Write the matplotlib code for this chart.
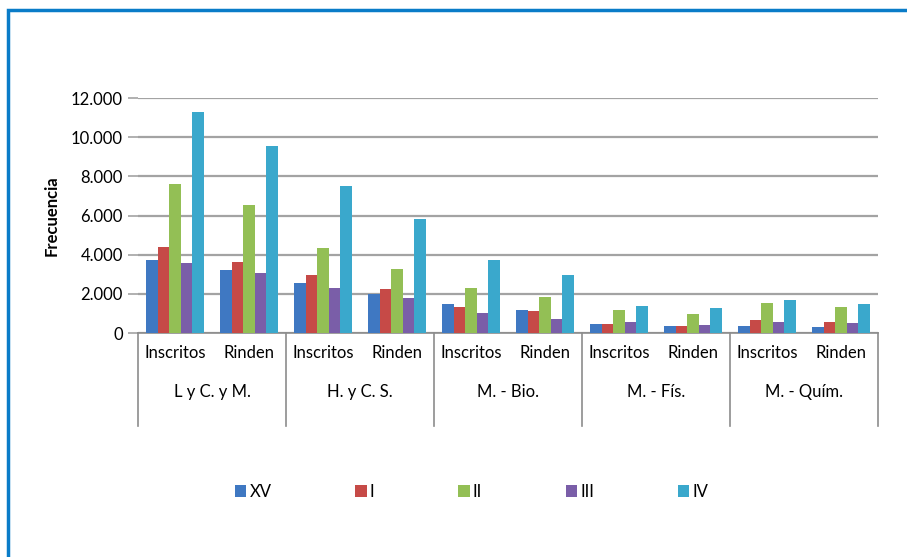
import matplotlib.pyplot as plt
from matplotlib.patches import Rectangle
from matplotlib.ticker import FuncFormatter, FixedLocator
import matplotlib.transforms as mtransforms

plt.rcParams['font.family'] = ['Lato', 'DejaVu Sans']

# data
groups = ['L y C. y M.', 'H. y C. S.', 'M. - Bio.', 'M. - Fís.', 'M. - Quím.']
subcats = ['Inscritos', 'Rinden']
series = ['XV', 'I', 'II', 'III', 'IV']
colors = ['#3f78c2', '#c64a47', '#93bf55', '#7a5ea8', '#3aa8cc']

xv = [3730, 3200, 2540, 1980, 1480, 1190, 440, 360, 360, 290]
s_i = [4380, 3640, 2980, 2230, 1330, 1110, 440, 360, 660, 560]
s_ii = [7590, 6550, 4320, 3270, 2320, 1840, 1170, 950, 1550, 1310]
s_iii = [3570, 3050, 2300, 1790, 1000, 730, 560, 430, 560, 490]
s_iv = [11270, 9550, 7510, 5800, 3740, 2980, 1390, 1260, 1700, 1470]
values = [xv, s_i, s_ii, s_iii, s_iv]

fig = plt.figure(figsize=(9.07, 5.57), dpi=100)
ax = fig.add_axes([0.1522, 0.4021, 0.8159, 0.4219])

n = len(series)
bw = 0.155
for k, (name, vals, c) in enumerate(zip(series, values, colors)):
    xs = [i + 0.5 + (k - (n - 1) / 2) * bw for i in range(len(vals))]
    ax.bar(xs, vals, width=bw, color=c, label=name, zorder=3)

ax.set_xlim(0, len(xv))
ax.set_ylim(0, 12000)
ax.yaxis.set_major_locator(FixedLocator(range(0, 12001, 2000)))
ax.yaxis.set_major_formatter(FuncFormatter(lambda v, p: f'{int(v):,}'.replace(',', '.')))
ax.grid(axis='y', color='#a3a3a3', linewidth=1.6, zorder=0)
ax.tick_params(axis='y', length=7, width=1.2, color='#a3a3a3', labelsize=12, pad=4)
ax.set_xticks([])
for s in ['top', 'right', 'left']:
    ax.spines[s].set_visible(False)
ax.spines['bottom'].set_color('#8c8c8c')
ax.spines['bottom'].set_linewidth(1.2)
ax.set_ylabel('Frecuencia', fontsize=12, fontweight='bold', labelpad=8)

# two-level category labels
trans = mtransforms.blended_transform_factory(ax.transData, ax.transAxes)
for i in range(len(xv)):
    ax.text(i + 0.5, -0.085, subcats[i % 2], transform=trans, ha='center', va='center', fontsize=12)
for g, name in enumerate(groups):
    ax.text(2 * g + 1, -0.25, name, transform=trans, ha='center', va='center', fontsize=12)
for g in range(len(groups) + 1):
    ax.plot([2 * g, 2 * g], [0, -0.395], transform=trans, color='#8c8c8c', linewidth=1.2, clip_on=False)

ax.legend(loc='center', bbox_to_anchor=(0.52, 0.117), bbox_transform=fig.transFigure,
          ncol=5, frameon=False, fontsize=12, handlelength=0.7, handleheight=0.7,
          handletextpad=0.2, columnspacing=5.0)

# blue frame
fig.patches.append(Rectangle((8 / 907, -0.1), 1.2, 1 - 10 / 557 + 0.1, transform=fig.transFigure,
                             fill=False, edgecolor='#0a7cc8', linewidth=2.5))

fig.savefig('out.png', dpi=100)
